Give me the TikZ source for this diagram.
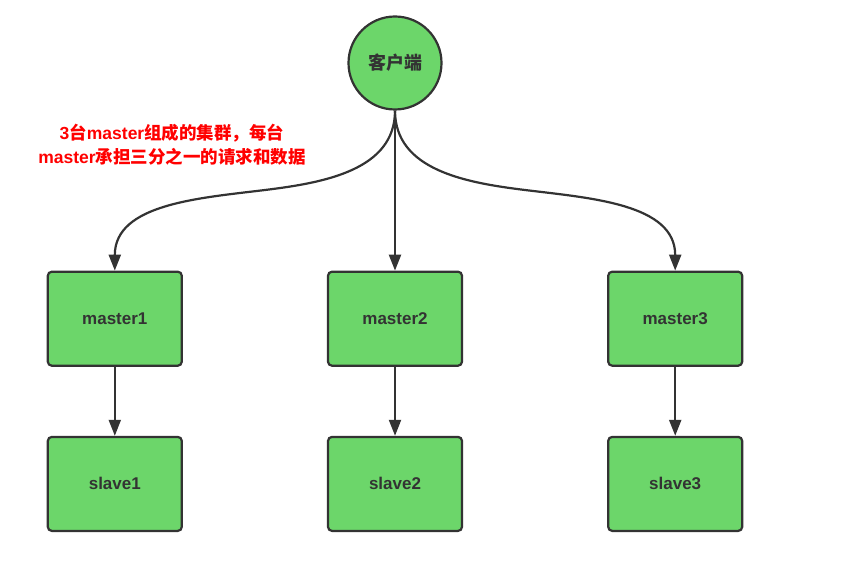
\documentclass[tikz,border=0pt]{standalone}
\usepackage{fontspec}
\setmainfont{Liberation Sans}
\newfontfamily\cjk{Noto Sans CJK SC}
\usetikzlibrary{arrows.meta,positioning}
\definecolor{verde}{HTML}{6CD66A}
\definecolor{borde}{HTML}{333333}
\tikzset{
  nodo/.style={
    rectangle, rounded corners=4pt, draw=borde, fill=verde, line width=2.2pt,
    minimum width=134pt, minimum height=94pt, align=center,
    text=borde, font=\fontsize{17}{20}\selectfont\bfseries},
  cliente/.style={
    circle, draw=borde, fill=verde, line width=2.2pt, minimum size=93pt,
    inner sep=0pt, text=borde, font=\fontsize{18}{20}\selectfont\cjk\bfseries},
  nota/.style={
    align=center, text=red, font=\fontsize{17.5}{24}\selectfont\bfseries},
  flecha/.style={-{Triangle[length=16pt,width=12pt]}, draw=borde, line width=2.2pt}
}
\begin{document}
\begin{tikzpicture}[x=1pt,y=1pt]
\useasboundingbox (0,0) rectangle (858,-561);

\node[cliente] (cli) at (395,-63) {客户端};

\node[nodo, below=160pt of cli] (m2) {master2};
\node[nodo, left=144pt of m2] (m1) {master1};
\node[nodo, right=144pt of m2] (m3) {master3};

\node[nodo, below=69pt of m1] (s1) {slave1};
\node[nodo, below=69pt of m2] (s2) {slave2};
\node[nodo, below=69pt of m3] (s3) {slave3};

\node[nota] (texto) at (172,-145)
  {3\cjk 台\rmfamily master\cjk 组成的集群，每台\\
   master\cjk 承担三分之一的请求和数据};

% cliente -> masters
\draw[flecha] (cli.south) to[out=-90,in=7] (265,-190)
  to[out=187,in=90] (m1.north);
\draw[flecha] (cli.south) -- (m2.north);
\draw[flecha] (cli.south) to[out=-90,in=173] (525,-190)
  to[out=-7,in=90] (m3.north);

% master -> slave
\draw[flecha] (m1) -- (s1);
\draw[flecha] (m2) -- (s2);
\draw[flecha] (m3) -- (s3);

\end{tikzpicture}
\end{document}
